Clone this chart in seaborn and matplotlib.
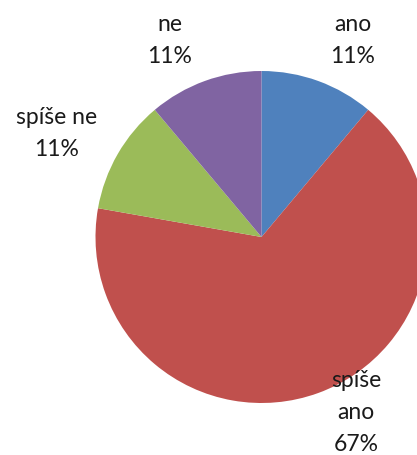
import matplotlib.pyplot as plt
import seaborn as sns

categories = ["ano", "spíše ano", "spíše ne", "ne"]
counts = [1, 6, 1, 1]
colors = ["#4F81BD", "#C0504D", "#9BBB59", "#8064A2"]
label_lines = [["ano", "11%"], ["spíše", "ano", "67%"], ["spíše ne", "11%"], ["ne", "11%"]]

sns.set_theme(style="white")
plt.rcParams["font.family"] = ["Lato", "DejaVu Sans"]

W, H = 417, 455
fig = plt.figure(figsize=(W / 100, H / 100), dpi=100)
ax = fig.add_axes([0, 0, 1, 1])

ax.pie(counts, colors=sns.color_palette(colors), startangle=90, counterclock=False,
       center=(261.5, H - 237), radius=166, wedgeprops=dict(linewidth=0), frame=True)
ax.set_xlim(0, W)
ax.set_ylim(0, H)
ax.set_aspect("equal")
ax.axis("off")

# label anchors in pixels: x centre, baseline of first line
anchors = [(353, 31), (356, 387), (57, 124), (170, 31)]
step = 32
for lines, (x, y) in zip(label_lines, anchors):
    for i, t in enumerate(lines):
        ax.text(x, H - (y + i * step), t, ha="center", va="baseline",
                fontsize=16.5, color="#1a1a1a")

fig.savefig("out.png", dpi=100)
